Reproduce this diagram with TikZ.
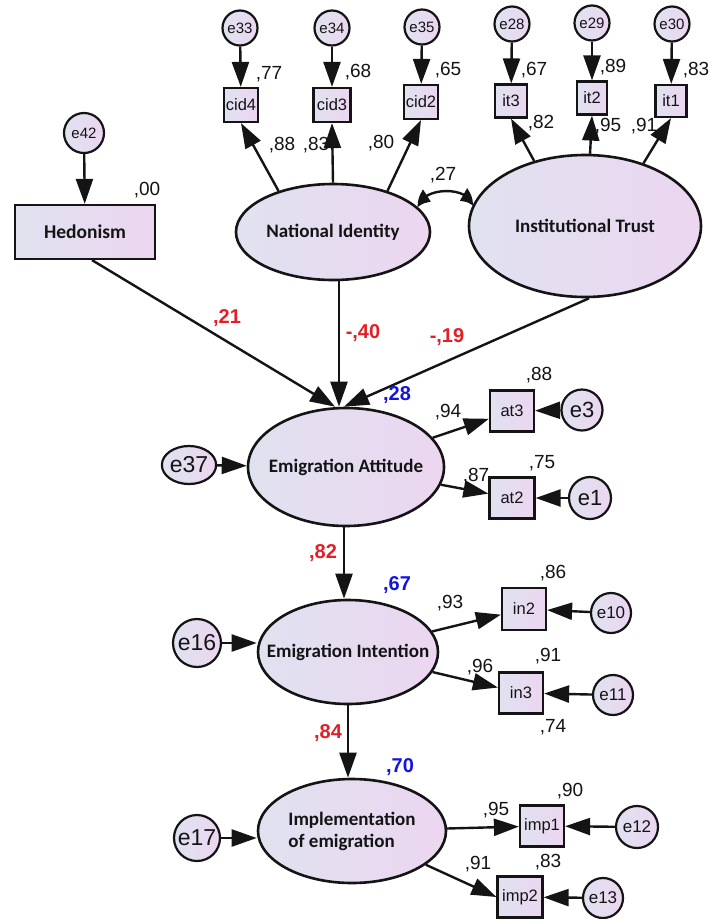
\documentclass[tikz,border=0pt]{standalone}
\usepackage{fontspec}
\setmainfont{Liberation Sans}
\newfontfamily\calfont{Carlito}
\usetikzlibrary{arrows.meta,shapes.geometric,bending}
\definecolor{gL}{RGB}{224,226,240}
\definecolor{gR}{RGB}{236,214,240}
\definecolor{redv}{RGB}{228,30,36}
\definecolor{bluev}{RGB}{20,20,225}
\definecolor{ink}{RGB}{20,20,20}
\begin{document}
\begin{tikzpicture}[x=1pt,y=-1pt,
  every node/.style={text=ink},
  grad/.style={left color=gL, right color=gR, draw=ink, line width=2.2pt},
  latent/.style={grad, ellipse, inner sep=0pt, line width=2.6pt},
  lt/.style={font=\calfont\bfseries\fontsize{19}{22}\selectfont, align=left},
  obs/.style={grad, rectangle, inner sep=0pt, font=\fontsize{16.5}{16.5}\selectfont},
  err/.style={grad, circle, inner sep=0pt},
  esmall/.style={err, minimum size=35pt, font=\fontsize{15}{15}\selectfont},
  emid/.style={err, minimum size=40pt, font=\fontsize{17}{17}\selectfont},
  ebig/.style={err, font=\fontsize{23}{23}\selectfont},
  arr/.style={draw=ink, line width=2.4pt, -{Triangle[length=25pt,width=17pt]}},
  lab/.style={inner sep=0pt, font=\fontsize{19}{19}\selectfont},
  coef/.style={inner sep=0pt, font=\bfseries\fontsize{20}{20}\selectfont, text=redv},
  rsq/.style={inner sep=0pt, font=\bfseries\fontsize{20}{20}\selectfont, text=bluev}
]
\fill[white] (0,0) rectangle (711,919);
\useasboundingbox (0,0) rectangle (711,919);

% latent variables
\node[latent, minimum width=194pt, minimum height=96pt,
  label={[lt]center:National Identity}] (ni) at (333,232) {};
\node[latent, minimum width=232pt, minimum height=142pt,
  label={[lt]center:Institutional Trust}] (it) at (585,226) {};
\node[latent, minimum width=196pt, minimum height=118pt,
  label={[lt]center:Emigration Attitude}] (ea) at (346,467) {};
\node[latent, minimum width=180pt, minimum height=104pt,
  label={[lt]center:Emigration Intention}] (ei) at (348,652) {};
\node[latent, minimum width=188pt, minimum height=104pt,
  label={[lt]center:Implementation\\of emigration}] (ioe) at (352,831) {};

% hedonism
\node[esmall, minimum size=40pt] (e42) at (84,133) {e42};
\node[grad, rectangle, minimum width=140pt, minimum height=54pt, inner sep=0pt,
  font=\calfont\bfseries\fontsize{19.5}{19.5}\selectfont] (hed) at (85,232) {Hedonism};

% top indicators
\node[esmall] (e33) at (240,28) {e33};
\node[esmall] (e34) at (332,28) {e34};
\node[esmall] (e35) at (422,27) {e35};
\node[esmall] (e28) at (512,24) {e28};
\node[esmall] (e29) at (592,23) {e29};
\node[esmall] (e30) at (672,24) {e30};
\node[obs, minimum width=34pt, minimum height=34pt] (cid4) at (241,105) {cid4};
\node[obs, minimum width=37pt, minimum height=34pt] (cid3) at (332,105) {cid3};
\node[obs, minimum width=34pt, minimum height=34pt] (cid2) at (421,102) {cid2};
\node[obs, minimum width=32pt, minimum height=33pt] (it3) at (511,101) {it3};
\node[obs, minimum width=30pt, minimum height=33pt] (it2) at (592,98) {it2};
\node[obs, minimum width=31pt, minimum height=32pt] (it1) at (671,101) {it1};

% attitude block
\node[ebig, ellipse, minimum width=44pt, minimum height=38pt] (e37) at (189,465) {e37};
\node[obs, minimum width=44pt, minimum height=41pt] (at3) at (512,411) {at3};
\node[obs, minimum width=45pt, minimum height=41pt] (at2) at (512,498) {at2};
\node[ebig, minimum size=41pt, font=\fontsize{22}{22}\selectfont] (e3) at (582,410) {e3};
\node[ebig, minimum size=42pt, font=\fontsize{22}{22}\selectfont] (e1) at (590,498) {e1};

% intention block
\node[ebig, minimum size=48pt] (e16) at (197,643) {e16};
\node[obs, minimum width=44pt, minimum height=42pt] (in2) at (524,609) {in2};
\node[obs, minimum width=44pt, minimum height=41pt] (in3) at (521,693) {in3};
\node[emid] (e10) at (611,613) {e10};
\node[emid] (e11) at (613,695) {e11};

% implementation block
\node[ebig, minimum size=46pt] (e17) at (197,838) {e17};
\node[obs, minimum width=44pt, minimum height=41pt] (imp1) at (542,826) {imp1};
\node[obs, minimum width=45pt, minimum height=41pt] (imp2) at (520,897) {imp2};
\node[emid, minimum size=42pt] (e12) at (637,827) {e12};
\node[emid] (e13) at (603,898) {e13};

% connectors: top
\draw[arr] (e42) -- (hed);
\draw[arr] (e33) -- (cid4);
\draw[arr] (e34) -- (cid3);
\draw[arr] (e35) -- (cid2);
\draw[arr] (e28) -- (it3);
\draw[arr] (e29) -- (it2);
\draw[arr] (e30) -- (it1);
\draw[arr] (ni.143) -- (cid4.south);
\draw[arr] (ni.90) -- (cid3.south);
\draw[arr] (ni.37) -- (cid2.south);
\draw[arr] (it.128) -- (it3.south);
\draw[arr] (it.86) -- (it2.south);
\draw[arr] (it.47) -- (it1.south);
\draw[draw=ink, line width=2.4pt, {Triangle[length=15pt,width=14pt,bend]}-{Triangle[length=15pt,width=14pt,bend]}]
  (ni.16) to[out=85, in=95, looseness=1] (it.170);

% structural paths
\draw[arr] ([xshift=7pt]hed.south) -- ([xshift=-11pt]ea.north);
\draw[arr] ([xshift=6pt]ni.south) -- ([xshift=-7pt]ea.north);
\draw[arr] ([xshift=4pt]it.south) -- ([xshift=-2pt]ea.north);
\draw[arr] ([xshift=-2pt]ea.south) -- ([xshift=-4pt]ei.north);
\draw[arr] (ei.south) -- ([xshift=-4pt]ioe.north);

% measurement lower
\draw[arr] (e37) -- (ea);
\draw[arr] (ea) -- (at3);
\draw[arr] (ea) -- (at2);
\draw[arr] (e3) -- (at3);
\draw[arr] (e1) -- (at2);
\draw[arr] (e16) -- (e16 -| ei.west);
\draw[arr] (ei) -- (in2);
\draw[arr] (ei) -- (in3);
\draw[arr] (e10) -- (in2);
\draw[arr] (e11) -- (in3);
\draw[arr] (e17) -- (e17 -| ioe.west);
\draw[arr] (ioe) -- (imp1);
\draw[arr] (ioe) -- (imp2.west);
\draw[arr] (e12) -- (imp1);
\draw[arr] (e13) -- (imp2);

% labels
\node[lab] (l00) at (147,190) {,00};
\node[lab] (l77) at (269,74) {,77};
\node[lab] (l68) at (358,72) {,68};
\node[lab] (l65) at (448,70) {,65};
\node[lab] (l67t) at (534,70) {,67};
\node[lab] (l89) at (613,67) {,89};
\node[lab] (l83t) at (696,70) {,83};
\node[lab] (l88) at (282,145) {,88};
\node[lab] (l83) at (316,145) {,83};
\node[lab] (l80) at (381,143) {,80};
\node[lab] (l82t) at (541,123) {,82};
\node[lab] (l95t) at (608,126) {,95};
\node[lab] (l91t) at (644,126) {,91};
\node[lab] (l27) at (443,175) {,27};

\node[coef] (c21) at (227,318) {,21};
\node[coef] (c40) at (363,333) {-,40};
\node[coef] (c19) at (447,337) {-,19};
\node[rsq] (r28) at (397,395) {,28};
\node[lab] (l88b) at (539,375) {,88};
\node[lab] (l94) at (448,412) {,94};
\node[lab] (l75) at (542,463) {,75};
\node[lab] (l87) at (476,476) {,87};

\node[coef] (c82) at (323,553) {,82};
\node[rsq] (r67) at (397,585) {,67};
\node[lab] (l86) at (553,573) {,86};
\node[lab] (l93) at (450,603) {,93};
\node[lab] (l91) at (548,656) {,91};
\node[lab] (l96) at (480,667) {,96};
\node[lab] (l74) at (553,727) {,74};

\node[coef] (c84) at (328,733) {,84};
\node[rsq] (r70) at (400,767) {,70};
\node[lab] (l90) at (570,791) {,90};
\node[lab] (l95) at (496,810) {,95};
\node[lab] (l91b) at (478,864) {,91};
\node[lab] (l83b) at (548,862) {,83};
\end{tikzpicture}
\end{document}
